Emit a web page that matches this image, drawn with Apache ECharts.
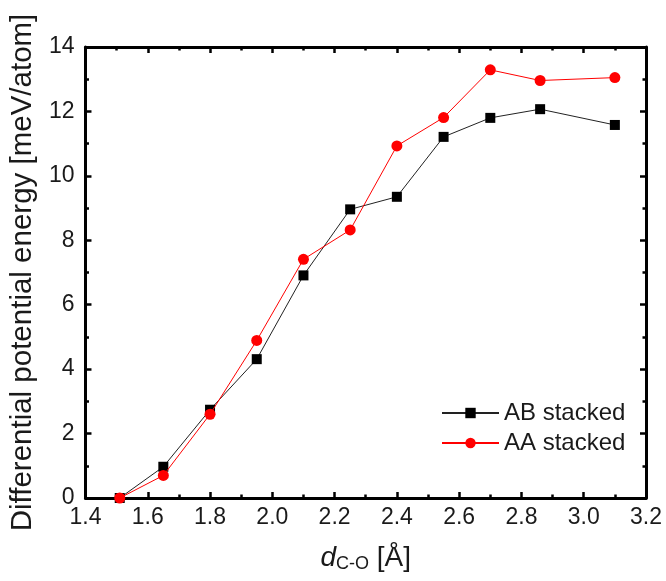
<!DOCTYPE html>
<html>
<head>
<meta charset="utf-8">
<script src="https://cdn.jsdelivr.net/npm/echarts@6/dist/echarts.min.js"></script>
<style>
  html, body { margin: 0; padding: 0; background: #fff; }
  #chart { width: 666px; height: 581px; }
</style>
</head>
<body>
<div id="chart"></div>
<script>
// C–O separation (Å)
const distances = [1.51, 1.65, 1.80, 1.95, 2.10, 2.25, 2.40, 2.55, 2.70, 2.86, 3.10];
// Differential potential energy (meV/atom)
const abStacked = [0, 0.97, 2.74, 4.31, 6.91, 8.96, 9.35, 11.21, 11.80, 12.07, 11.58];
const aaStacked = [0, 0.70, 2.60, 4.89, 7.41, 8.32, 10.93, 11.81, 13.29, 12.96, 13.05];
const seriesNames = ['AB stacked', 'AA stacked'];

const FONT = '"Liberation Sans", Arial, sans-serif';
const INK = '#1a1a1a';

function pairs(xs, ys) {
  return xs.map((x, i) => [x, ys[i]]);
}

const frameLine = { show: true, onZero: false, lineStyle: { color: '#000', width: 3 } };
const tickIn = { show: true, inside: true, length: 6, lineStyle: { color: '#000', width: 2.5 } };
const minorIn = { show: true, splitNumber: 2, length: 3.5, lineStyle: { color: '#000', width: 2.5 } };

const xBase = { type: 'value', min: 1.4, max: 3.2, interval: 0.2, splitLine: { show: false },
  axisLine: frameLine, axisTick: tickIn, minorTick: minorIn, minorSplitLine: { show: false } };
const yBase = { type: 'value', min: 0, max: 14, interval: 2, splitLine: { show: false },
  axisLine: frameLine, axisTick: tickIn, minorTick: minorIn, minorSplitLine: { show: false } };

const chart = echarts.init(document.getElementById('chart'), null, { renderer: 'canvas' });
chart.setOption({
  animation: false,
  backgroundColor: '#fff',
  grid: { left: 84, right: 20, top: 47, bottom: 83, containLabel: false },
  xAxis: [
    Object.assign({}, xBase, {
      position: 'bottom',
      axisLabel: { show: true, margin: 8, color: INK, fontFamily: FONT, fontSize: 23,
        formatter: v => v.toFixed(1) },
      name: '{i|d}{s|C-O}{n| [Å]}',
      nameLocation: 'middle',
      nameGap: 45,
      nameTextStyle: {
        color: INK, fontFamily: FONT,
        rich: {
          i: { fontSize: 28, fontStyle: 'italic', fontFamily: FONT, color: INK, lineHeight: 30 },
          s: { fontSize: 18, fontFamily: FONT, color: INK, lineHeight: 14, verticalAlign: 'bottom' },
          n: { fontSize: 28, fontFamily: FONT, color: INK, lineHeight: 30 }
        }
      }
    }),
    Object.assign({}, xBase, { position: 'top', axisLabel: { show: false } })
  ],
  yAxis: [
    Object.assign({}, yBase, {
      position: 'left',
      axisLabel: { show: true, margin: 11, color: INK, fontFamily: FONT, fontSize: 23 },
      name: 'Differential potential energy [meV/atom]',
      nameLocation: 'middle',
      nameGap: 45,
      nameTextStyle: { color: INK, fontFamily: FONT, fontSize: 29.5 }
    }),
    Object.assign({}, yBase, { position: 'right', axisLabel: { show: false } })
  ],
  legend: {
    orient: 'vertical',
    left: 436,
    top: 396,
    itemWidth: 57,
    itemHeight: 13,
    itemGap: 6,
    data: seriesNames,
    textStyle: { color: INK, fontFamily: FONT, fontSize: 24 }
  },
  series: [
    {
      name: seriesNames[0],
      type: 'line',
      xAxisIndex: 0,
      yAxisIndex: 0,
      data: pairs(distances, abStacked),
      symbol: 'rect',
      symbolSize: 10,
      color: '#000',
      itemStyle: { color: '#000' },
      lineStyle: { color: '#222', width: 1 },
      z: 2
    },
    {
      name: seriesNames[1],
      type: 'line',
      xAxisIndex: 0,
      yAxisIndex: 0,
      data: pairs(distances, aaStacked),
      symbol: 'circle',
      symbolSize: 11,
      color: '#ff0000',
      itemStyle: { color: '#ff0000' },
      lineStyle: { color: '#ff0000', width: 1 },
      z: 3
    }
  ]
});
</script>
</body>
</html>
